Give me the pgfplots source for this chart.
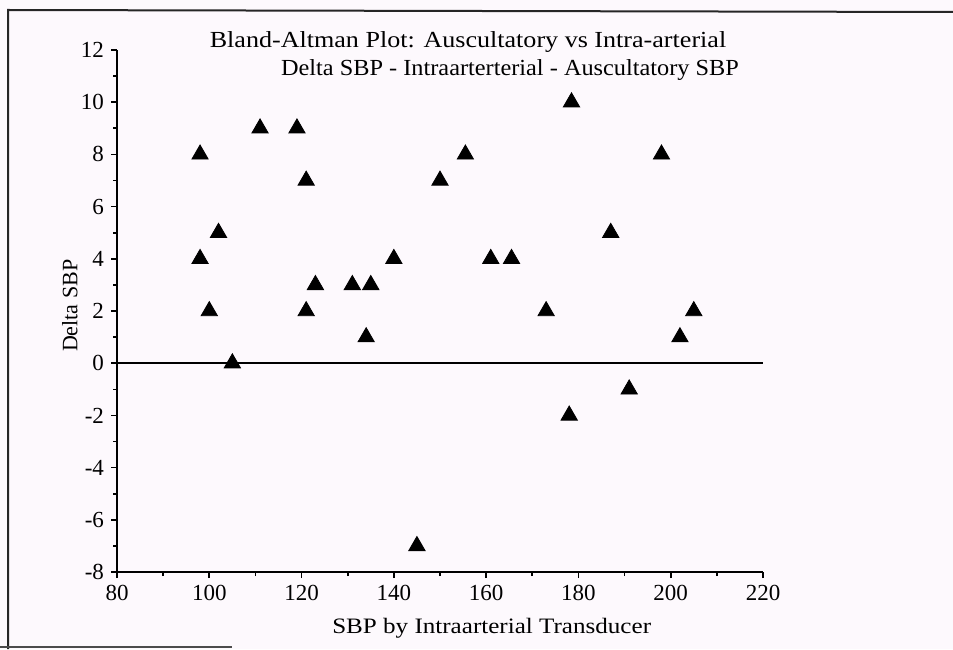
\documentclass[border=0pt]{standalone}
\usepackage{pgfplots}
\pgfplotsset{compat=1.18}
\usepackage{fontspec}
\setmainfont{Liberation Serif}
\definecolor{paper}{RGB}{253,249,253}
\begin{document}
\begin{tikzpicture}[x=1pt,y=1pt]
\fill[paper] (0pt,0pt) rectangle (476.5pt,324.5pt);
\useasboundingbox (0pt,0pt) rectangle (476.5pt,324.5pt);
% scanned frame
\draw[line width=1pt, black!85] (4pt,0pt) -- (4pt,319.5pt) -- (476.5pt,318.5pt);
\draw[line width=1pt, black!70] (0pt,1pt) -- (116pt,1pt);
\begin{axis}[
  at={(58.5pt,38.5pt)}, anchor=south west,
  scale only axis, width=323pt, height=261pt,
  xmin=80, xmax=220, ymin=-8, ymax=12,
  axis x line*=bottom, axis y line*=left,
  axis line style={-, line width=1.1pt},
  xtick={80,100,...,220}, ytick={-8,-6,...,12},
  minor x tick num=1, minor y tick num=1,
  tick align=outside,
  major tick length=3pt, minor tick length=2pt,
  every tick/.style={black, line width=0.8pt},
  /pgf/number format/assume math mode=true,
  tick label style={font=\fontsize{11.5}{13}\selectfont},
  label style={font=\fontsize{11}{13}\selectfont},
  xlabel={SBP by Intraarterial Transducer},
  ylabel={Delta SBP},
  xlabel style={at={(axis description cs:0.58,0)}, anchor=center, yshift=-28pt, xscale=1.14},
  ylabel style={at={(axis description cs:-0.0728,0.51)}, anchor=center},
  clip=false,
]
\addplot[black, line width=1.1pt, forget plot] coordinates {(80,0) (220,0)};
\addplot[only marks, mark=triangle*, mark size=4.7pt, mark options={fill=black, draw=black}] coordinates {
(98,8) (98,4) (100,2) (102,5) (105,0) (111,9) (119,9) (121,7) (121,2)
(123,3) (131,3) (135,3) (134,1) (140,4) (145,-7) (150,7) (155.5,8)
(161,4) (165.5,4) (173,2) (178.5,10) (178,-2) (187,5) (191,-1)
(198,8) (202,1) (205,2)
};
\end{axis}
\node[font=\fontsize{11.5}{13}\selectfont, anchor=center, xscale=1.134] at (234pt,303.5pt) {Bland-Altman Plot: Auscultatory vs Intra-arterial};
\node[font=\fontsize{11.5}{13}\selectfont, anchor=center, xscale=1.057] at (255pt,289.5pt) {Delta SBP - Intraarterterial - Auscultatory SBP};
\end{tikzpicture}
\end{document}
